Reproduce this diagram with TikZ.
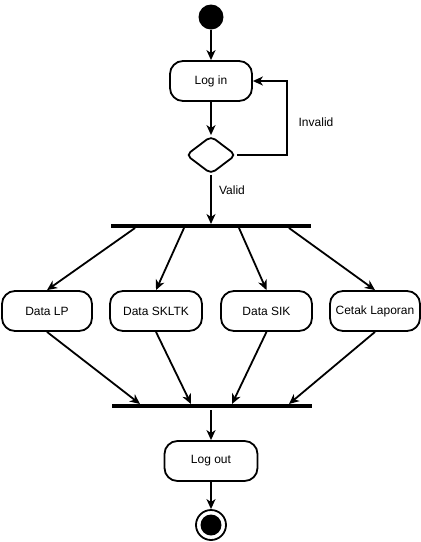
\documentclass[tikz,border=0pt]{standalone}
\usepackage{fontspec}
\setmainfont{Liberation Sans}
\usetikzlibrary{arrows.meta,shapes.geometric}
\begin{document}
\begin{tikzpicture}[x=1pt,y=-1pt,
  act/.style={draw,line width=1.8pt,rounded corners=13pt,minimum height=40pt,inner sep=0pt,font=\fontsize{12}{14}\selectfont},
  bar/.style={draw=none,fill=black,minimum height=4.5pt,inner sep=0pt},
  arr/.style={line width=1.8pt,-{Stealth[length=10pt,width=9pt,inset=3pt]}},
  lbl/.style={font=\fontsize{12}{14}\selectfont,inner sep=1pt}]
\useasboundingbox (0,0) rectangle (421,542);
\node[circle,fill=black,minimum size=25pt,inner sep=0pt] (start) at (211,17) {};
\node[act,minimum width=82pt] (login) at (211,81) {Log in};
\node[diamond,draw,line width=1.8pt,minimum width=50pt,minimum height=38pt,inner sep=0pt,rounded corners=5pt,aspect=1.35] (dec) at (211,155) {};
\node[bar,minimum width=200pt] (fork) at (211,226) {};
\node[act,minimum width=90pt] (lp) at (47,311) {Data LP};
\node[act,minimum width=92pt] (sk) at (156,311) {Data SKLTK};
\node[act,minimum width=91pt] (sik) at (266.5,311) {Data SIK};
\node[act,minimum width=90pt] (cl) at (375,311) {Cetak Laporan};
\node[bar,minimum width=200pt] (join) at (212,406) {};
\node[act,minimum width=93pt] (logout) at (211,461) {Log out};
\node[circle,draw,line width=1.8pt,minimum size=30pt,inner sep=0pt] (end) at (211,525) {};
\node[circle,fill=black,minimum size=21pt,inner sep=0pt] (endin) at (211,525) {};
\coordinate (c1) at (287,155);
\coordinate (c2) at (287,81);
\draw[arr] (start) -- (login);
\draw[arr] (login) -- (dec);
\draw[arr] (dec.east) -- (c1) -- (c2) -- (login.east);
\node[lbl] (inv) at (316,122) {Invalid};
\coordinate (v) at (211,224);
\draw[arr] (dec.south) -- (v);
\node[lbl] (val) at (232,190) {Valid};
\coordinate (f1) at (135,228);
\coordinate (f2) at (184,228);
\coordinate (f3) at (239,228);
\coordinate (f4) at (289,228);
\draw[arr] (f1) -- (lp.north);
\draw[arr] (f2) -- (sk.north);
\draw[arr] (f3) -- (sik.north);
\draw[arr] (f4) -- (cl.north);
\coordinate (j1) at (140,404);
\coordinate (j2) at (191,404);
\coordinate (j3) at (232,404);
\coordinate (j4) at (289,404);
\draw[arr] (lp.south) -- (j1);
\draw[arr] (sk.south) -- (j2);
\draw[arr] (sik.south) -- (j3);
\draw[arr] (cl.south) -- (j4);
\coordinate (jo) at (211,410);
\draw[arr] (jo) -- (logout.north);
\draw[arr] (logout) -- (end);
\end{tikzpicture}
\end{document}
